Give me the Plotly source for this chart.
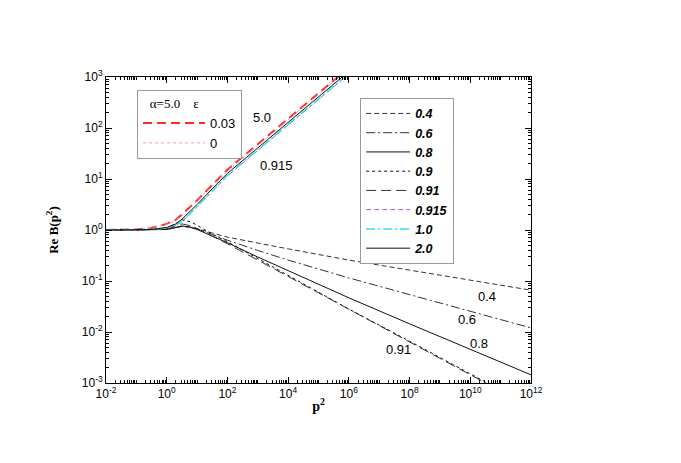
import plotly.graph_objects as go
import numpy as np

# ---- data (log10 values) ----
# upper branch (log10 p^2 grid)
logp_up = [-2, -1, -0.5, 0, 0.3, 0.5, 0.75, 1, 1.5, 2, 3, 4, 5, 6]
logB_a5_003 = [0, 0.01, 0.04, 0.12, 0.20, 0.30, 0.44, 0.58, 0.88, 1.18, 1.68, 2.18, 2.68, 3.18]
logB_a5_0 = [0, 0.01, 0.04, 0.11, 0.19, 0.28, 0.42, 0.56, 0.86, 1.16, 1.66, 2.16, 2.66, 3.16]
logB_0915 = [0, 0, 0.01, 0.04, 0.09, 0.16, 0.30, 0.45, 0.76, 1.06, 1.56, 2.06, 2.56, 3.06]
logB_10 = [0, 0, 0.01, 0.04, 0.10, 0.17, 0.31, 0.46, 0.77, 1.07, 1.57, 2.07, 2.57, 3.07]
logB_20 = [0, 0, 0.01, 0.05, 0.12, 0.21, 0.35, 0.50, 0.81, 1.11, 1.61, 2.11, 2.61, 3.11]

# lower branch
logp_lo = [-2, -1, 0, 0.3, 0.5, 0.8, 1, 1.5, 2, 3, 4, 6, 8, 10, 12]
logB_04 = [0, 0, 0.01, 0.05, 0.07, 0.06, 0.03, -0.06, -0.14, -0.26, -0.37, -0.59, -0.79, -0.99, -1.18]
logB_06 = [0, 0, 0.01, 0.05, 0.07, 0.05, 0.02, -0.09, -0.20, -0.40, -0.59, -0.94, -1.27, -1.60, -1.92]
logB_08 = [0, 0, 0.01, 0.05, 0.08, 0.05, 0.01, -0.12, -0.25, -0.53, -0.80, -1.33, -1.84, -2.34, -2.84]
logB_09 = [0, 0, 0.02, 0.13, 0.20, 0.16, 0.09, -0.08, -0.23, -0.56, -0.89, -1.55, -2.18, -2.82, -3.46]
logB_091 = [0, 0, 0.02, 0.08, 0.12, 0.08, 0.03, -0.12, -0.27, -0.59, -0.91, -1.56, -2.20, -2.84, -3.48]

x_tick_exp = [-2, 0, 2, 4, 6, 8, 10, 12]
y_tick_exp = [-3, -2, -1, 0, 1, 2, 3]

curve_labels = ["5.0", "0.915", "0.4", "0.6", "0.8", "0.91"]
label_logx = [3.14, 3.63, 10.55, 9.89, 10.29, 7.62]
label_logy = [2.2, 1.27, -1.31, -1.76, -2.22, -2.35]

def p(v):
    return np.power(10.0, np.array(v, dtype=float))

fig = go.Figure()

# left legend: alpha = 5.0
fig.add_trace(go.Scatter(x=p(logp_up), y=p(logB_a5_003), mode="lines", name="0.03",
                         line=dict(color="#ff2a2a", width=2, dash="9px,5px"), legend="legend"))
fig.add_trace(go.Scatter(x=p(logp_up), y=p(logB_a5_0), mode="lines", name="0",
                         line=dict(color="#f2a0a0", width=1, dash="dot"), legend="legend"))

# right legend: epsilon values
lo_series = [
    ("0.4", logp_lo, logB_04, "#333333", "5px,3px", 1),
    ("0.6", logp_lo, logB_06, "#333333", "9px,3px,2px,3px", 1),
    ("0.8", logp_lo, logB_08, "#111111", "solid", 1),
    ("0.9", logp_lo, logB_09, "#111111", "dot", 1),
    ("0.91", logp_lo, logB_091, "#333333", "10px,5px", 1),
    ("0.915", logp_up, logB_0915, "#9a5fdc", "5px,3px", 1),
    ("1.0", logp_up, logB_10, "#33e0e8", "9px,3px,2px,3px", 1.5),
    ("2.0", logp_up, logB_20, "#111111", "solid", 1),
]
for name, xs, ys, col, dash, w in lo_series:
    fig.add_trace(go.Scatter(x=p(xs), y=p(ys), mode="lines", name=name,
                             line=dict(color=col, width=w, dash=dash), legend="legend2"))

for t, lx, ly in zip(curve_labels, label_logx, label_logy):
    fig.add_annotation(x=lx, y=ly, xref="x", yref="y", text=t, showarrow=False,
                       font=dict(family="Liberation Sans, Arial", size=13, color="black"))

axis_common = dict(
    type="log", showline=True, linecolor="black", linewidth=1, mirror="allticks",
    ticks="inside", ticklen=6, tickcolor="black", showgrid=False, zeroline=False,
    automargin=False,
    tickfont=dict(family="Liberation Sans, Arial", size=12, color="black"),
    minor=dict(ticks="inside", ticklen=3, tickcolor="black", dtick="D1", showgrid=False),
)

# page body has an 8px margin, so the figure is shrunk and margins shifted
fig.update_layout(
    width=673, height=455,
    margin=dict(l=98, r=150, t=69, b=80),
    paper_bgcolor="white", plot_bgcolor="white",
    xaxis=dict(axis_common, range=[-2, 12],
               tickvals=[10.0 ** e for e in x_tick_exp],
               ticktext=[f"10<sup>{e}</sup>" for e in x_tick_exp],
               title=dict(text="<b>p<sup>2</sup></b>", standoff=0,
                          font=dict(family="Liberation Serif, Times New Roman", size=14, color="black"))),
    yaxis=dict(axis_common, range=[-3, 3],
               tickvals=[10.0 ** e for e in y_tick_exp],
               ticktext=[f"10<sup>{e}</sup>" for e in y_tick_exp],
               title=dict(text="<b>Re B(p<sup>2</sup>)</b>", standoff=20,
                          font=dict(family="Liberation Serif, Times New Roman", size=13, color="black"))),
    legend=dict(x=0.073, y=0.957, xanchor="left", yanchor="top",
                bordercolor="#999999", borderwidth=1, bgcolor="white",
                itemwidth=62, tracegroupgap=0,
                title=dict(text="   α=5.0    ε", side="top",
                           font=dict(family="Liberation Serif, Times New Roman", size=13, color="black")),
                font=dict(family="Liberation Sans, Arial", size=13, color="black")),
    legend2=dict(x=0.598, y=0.932, xanchor="left", yanchor="top",
                 bordercolor="#999999", borderwidth=1, bgcolor="white",
                 itemwidth=44, tracegroupgap=0,
                 font=dict(family="Liberation Sans, Arial", size=12.5, color="black",
                           style="italic", weight="bold")),
    showlegend=True,
)

fig.write_html("out.html")
